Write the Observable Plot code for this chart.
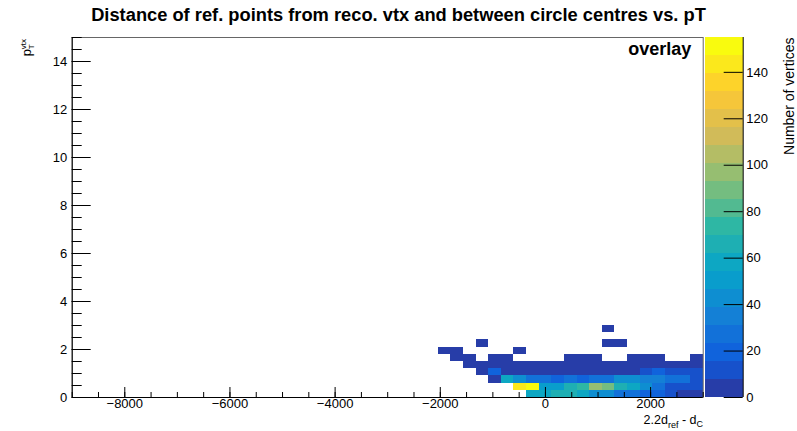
<!DOCTYPE html>
<html><head><meta charset="utf-8">
<script src="https://cdn.jsdelivr.net/npm/d3@7"></script>
<script src="https://cdn.jsdelivr.net/npm/@observablehq/plot@0.6"></script>
<style>
html,body{margin:0;padding:0;background:#fff;}
#wrap{position:relative;width:797px;height:431px;overflow:hidden;font-family:"Liberation Sans",Arial,sans-serif;color:#000;}
#title{position:absolute;left:0;top:5px;width:797px;text-align:center;font-weight:bold;font-size:18.3px;line-height:20px;}
#main{position:absolute;left:0;top:0;}
#cbar{position:absolute;left:704px;top:0;}
</style></head>
<body>
<div id="wrap">
  <div id="main"></div>
  <div id="cbar"></div>
  <div id="title">Distance of ref. points from reco. vtx and between circle centres vs. pT</div>
</div>
<script>
// ---- data: 2D histogram (x: 2.2d_ref - d_C, y: pT vtx), counts per bin ----
const xRange = [-9000, 3000];
const yRange = [0, 15];
const xBinLow = -2040;      // low edge of first stored column
const xBinWidth = 240;
const yBinWidth = 0.3;
// counts for columns starting at xBinLow, one array per pT row (0 = empty)
const row0 = [0,0,0,0,0,0,0,55,56,62,64,58,44,42,30,28,18,16,8,6,6];
const row1 = [0,0,0,0,0,0,142,155,54,52,62,70,97,88,62,56,42,28,12,10,10];
const row2 = [0,0,0,0,6,58,46,26,24,22,24,22,24,26,44,44,36,34,26,24,14];
const row3 = [0,0,0,4,22,6,5,6,7,6,5,6,5,6,7,7,14,16,14,14,10];
const row4 = [0,0,3,4,5,4,5,6,5,5,4,5,5,4,5,5,6,6,5,5,6];
const row5 = [0,2,2,0,2,2,0,0,0,0,1,2,1,0,0,2,1,1,0,0,1];
const row6 = [1,1,0,0,0,0,1,0,0,0,0,0,0,0,0,0,0,0,0,0,0];
const row7 = [0,0,0,1,0,0,0,0,0,0,0,0,0,1,1,0,0,0,0,0,0];
const row8 = [0,0,0,0,0,0,0,0,0,0,0,0,0,0,0,0,0,0,0,0,0];
const row9 = [0,0,0,0,0,0,0,0,0,0,0,0,0,1,0,0,0,0,0,0,0];
const rows = [row0,row1,row2,row3,row4,row5,row6,row7,row8,row9];
const zMax = 155;
const nLevels = 20;
const xMajor = [-8000,-6000,-4000,-2000,0,2000];
const xMinor = d3.range(-9000, 3001, 500);
const yMajor = [0,2,4,6,8,10,12,14];
const yMinor = d3.range(0, 15.01, 0.5);
const zTicks = [0,20,40,60,80,100,120,140];

// ---- ROOT kBird palette ----
const birdStops = [0,0.125,0.25,0.375,0.5,0.625,0.75,0.875,1];
const birdR = [0.2082,0.0592,0.0780,0.0232,0.1802,0.5301,0.8186,0.9956,0.9764];
const birdG = [0.1664,0.3599,0.5041,0.6419,0.7178,0.7492,0.7328,0.7862,0.9832];
const birdB = [0.5293,0.8684,0.8385,0.7914,0.6425,0.4662,0.3499,0.1968,0.0539];
function bird(t){
  t = Math.max(0, Math.min(1, t));
  let g = 1; while (g < birdStops.length-1 && t > birdStops[g]) g++;
  const f = (t - birdStops[g-1])/(birdStops[g]-birdStops[g-1]);
  const c = a => Math.round(255*(a[g-1] + (a[g]-a[g-1])*f));
  return d3.rgb(c(birdR), c(birdG), c(birdB)).formatHex();
}
const levelColors = d3.range(nLevels).map(i => bird(Math.floor((i+0.99)*255/nLevels)/254));
const thresholds = d3.range(1, nLevels).map(i => i*zMax/nLevels);
const colorScale = {type: "threshold", domain: thresholds, range: levelColors};

const cells = [];
rows.forEach((r, j) => r.forEach((v, i) => {
  if (v > 0) cells.push({x1: xBinLow + i*xBinWidth, x2: xBinLow + (i+1)*xBinWidth,
                         y1: j*yBinWidth, y2: (j+1)*yBinWidth, n: v});
}));
const bands = d3.range(nLevels).map(i => ({lo: i*zMax/nLevels, hi: (i+1)*zMax/nLevels, mid: (i+0.5)*zMax/nLevels}));

const fmt = d => String(d).replace("-", "\u2212");

// ---- layout ----
const H = 431, mT = 37, mB = 34, mL = 71.7, mainW = 704, mR = 1.3;
const frameW = mainW - mL - mR, frameH = H - mT - mB;
const font = "'Liberation Sans', Arial, sans-serif";

const main = Plot.plot({
  width: mainW, height: H,
  marginLeft: mL, marginRight: mR, marginTop: mT, marginBottom: mB,
  style: {background: "transparent", fontFamily: font, fontSize: "13px", color: "#000", overflow: "visible"},
  x: {domain: xRange, axis: null},
  y: {domain: yRange, axis: null},
  color: colorScale,
  marks: [
    Plot.rect(cells, {x1: "x1", x2: "x2", y1: "y1", y2: "y2", fill: "n", shapeRendering: "crispEdges"}),
    Plot.frame({stroke: "#666", strokeWidth: 1}),
    Plot.ruleY([yRange[0]], {stroke: "#000"}),
    Plot.ruleX([xRange[0]], {stroke: "#000"}),
    Plot.tickX(xMinor, {x: d => d, insetTop: frameH - 5, stroke: "#000"}),
    Plot.tickX(xMajor, {x: d => d, insetTop: frameH - 10, stroke: "#000"}),
    Plot.tickY(yMinor, {y: d => d, insetRight: frameW - 10, stroke: "#000"}),
    Plot.tickY(yMajor, {y: d => d, insetRight: frameW - 19, stroke: "#000"}),
    Plot.axisX(xMajor, {tickSize: 0, tickPadding: 1, label: null, fontSize: 13, tickFormat: fmt}),
    Plot.axisY(yMajor, {tickSize: 0, tickPadding: 5, label: null, fontSize: 13, tickFormat: fmt}),
    Plot.text(["overlay"], {frameAnchor: "top-right", dx: -12, dy: 5, fontWeight: "bold", fontSize: 18})
  ]
});
document.getElementById("main").appendChild(main);

// axis titles with sub/superscripts
const ms = d3.select(main);
const xt = ms.append("text").attr("x", 703).attr("y", 424).attr("text-anchor", "end")
  .attr("font-size", 12.5).attr("font-family", font).attr("fill", "#000");
xt.append("tspan").text("2.2d");
xt.append("tspan").attr("font-size", 9).attr("dy", 4).text("ref");
xt.append("tspan").attr("dy", -4).text(" - d");
xt.append("tspan").attr("font-size", 9).attr("dy", 3).text("C");

const yt = ms.append("text").attr("transform", "translate(31,39) rotate(-90)").attr("text-anchor", "end")
  .attr("font-size", 13).attr("font-family", font).attr("fill", "#000");
yt.append("tspan").text("p");
yt.append("tspan").attr("font-size", 8).attr("dy", 3).text("T");
yt.append("tspan").attr("font-size", 8).attr("dx", -5).attr("dy", -8).text("vtx");

// ---- colour bar ----
const cbW = 93, cbL = 1, cbR = 54.3;
const barW = cbW - cbL - cbR;
const cb = Plot.plot({
  width: cbW, height: H,
  marginLeft: cbL, marginRight: cbR, marginTop: mT, marginBottom: mB,
  style: {background: "transparent", fontFamily: font, fontSize: "13px", color: "#000", overflow: "visible"},
  x: {domain: [0, 1], axis: null},
  y: {domain: [0, zMax], axis: null},
  color: colorScale,
  marks: [
    Plot.rect(bands, {x1: d => 0, x2: d => 1, y1: "lo", y2: "hi", fill: "mid", shapeRendering: "crispEdges"}),
    Plot.ruleX([1], {stroke: "#000"}),
    Plot.tickY(zTicks, {y: d => d, insetLeft: barW - 19, stroke: "#000"}),
    Plot.axisY(zTicks, {anchor: "right", tickSize: 0, tickPadding: 3, label: null, fontSize: 13, tickFormat: fmt})
  ]
});
document.getElementById("cbar").appendChild(cb);
d3.select(cb).append("text").attr("transform", "translate(89.5,37.5) rotate(-90)")
  .attr("text-anchor", "end").attr("font-size", 14).attr("font-family", font).attr("fill", "#000")
  .text("Number of vertices");
</script>
</body></html>
